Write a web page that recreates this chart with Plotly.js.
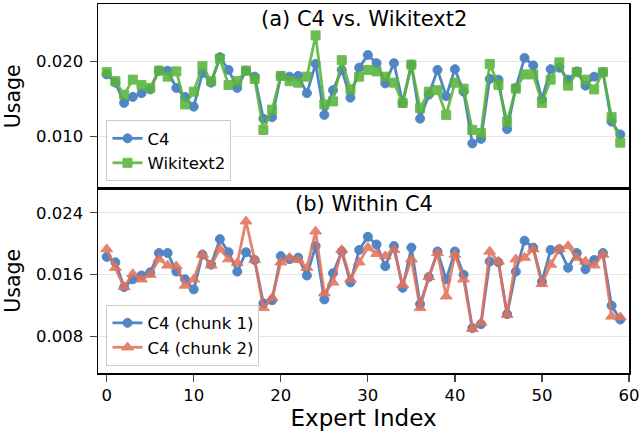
<!DOCTYPE html>
<html><head><meta charset="utf-8">
<script src="https://cdn.plot.ly/plotly-3.0.1.min.js"></script>
<style>body{margin:0;padding:0;background:#fff}#chart{width:639px;height:439px}</style>
</head><body><div id="chart"></div>
<script>
const experts = Array.from({length: 60}, (_, i) => i);
const c4Top = [0.0183,0.0172,0.0145,0.0153,0.0158,0.0163,0.0188,0.0188,0.0165,0.0153,
  0.0140,0.0185,0.0172,0.0206,0.0189,0.0165,0.0188,0.0180,0.0124,0.0126,
  0.0181,0.0180,0.0181,0.0158,0.0197,0.0129,0.0162,0.0189,0.0152,0.0192,
  0.0209,0.0198,0.0171,0.0198,0.0145,0.0196,0.0124,0.0156,0.0189,0.0154,
  0.0190,0.0160,0.0091,0.0097,0.0177,0.0176,0.0110,0.0165,0.0205,0.0195,
  0.0150,0.0190,0.0192,0.0176,0.0187,0.0168,0.0180,0.0186,0.0120,0.0103];
const wikitext2 = [0.0186,0.0174,0.0156,0.0176,0.0169,0.0165,0.0188,0.0180,0.0187,0.0143,
  0.0160,0.0194,0.0174,0.0204,0.0169,0.0174,0.0188,0.0177,0.0109,0.0136,
  0.0181,0.0174,0.0172,0.0180,0.0235,0.0143,0.0147,0.0202,0.0163,0.0180,
  0.0189,0.0187,0.0180,0.0172,0.0145,0.0196,0.0138,0.0160,0.0162,0.0129,
  0.0172,0.0164,0.0109,0.0105,0.0197,0.0169,0.0120,0.0164,0.0183,0.0183,
  0.0145,0.0176,0.0199,0.0168,0.0186,0.0176,0.0163,0.0186,0.0126,0.0092];
const chunk1 = [0.0183,0.0176,0.0144,0.0154,0.0159,0.0163,0.0188,0.0188,0.0164,0.0154,
  0.0141,0.0186,0.0173,0.0206,0.0189,0.0164,0.0189,0.0179,0.0123,0.0127,
  0.0184,0.0180,0.0182,0.0159,0.0197,0.0128,0.0162,0.0190,0.0150,0.0192,
  0.0209,0.0199,0.0171,0.0197,0.0143,0.0195,0.0122,0.0157,0.0190,0.0154,
  0.0190,0.0160,0.0091,0.0096,0.0177,0.0176,0.0109,0.0164,0.0204,0.0195,
  0.0151,0.0192,0.0193,0.0169,0.0188,0.0167,0.0179,0.0188,0.0120,0.0102];
const chunk2 = [0.0193,0.0169,0.0144,0.0161,0.0154,0.0160,0.0180,0.0172,0.0171,0.0146,
  0.0154,0.0186,0.0172,0.0193,0.0180,0.0175,0.0229,0.0179,0.0117,0.0130,
  0.0176,0.0182,0.0179,0.0169,0.0216,0.0136,0.0150,0.0192,0.0154,0.0176,
  0.0195,0.0187,0.0184,0.0192,0.0147,0.0180,0.0117,0.0157,0.0188,0.0132,
  0.0186,0.0154,0.0090,0.0098,0.0190,0.0177,0.0108,0.0180,0.0182,0.0193,
  0.0148,0.0173,0.0193,0.0197,0.0182,0.0177,0.0172,0.0186,0.0106,0.0105];
const xTicks = [0, 10, 20, 30, 40, 50, 60];

const BLUE = '#3a76bd', GREEN = '#58b43a', RED = '#e2725b';
function tr(y, name, color, symbol, xa, ya, leg) {
  return {x: experts, y: y, name: name, type: 'scatter', mode: 'lines+markers',
    xaxis: xa, yaxis: ya, legend: leg, opacity: 0.88,
    line: {color: color, width: 2.8},
    marker: {color: color, symbol: symbol, size: symbol === 'triangle-up' ? 10.5 : 9,
      line: {color: color, width: 1}}};
}
const data = [
  tr(c4Top, 'C4', BLUE, 'circle', 'x', 'y', 'legend'),
  tr(wikitext2, 'Wikitext2', GREEN, 'square', 'x', 'y', 'legend'),
  tr(chunk1, 'C4 (chunk 1)', BLUE, 'circle', 'x2', 'y2', 'legend2'),
  tr(chunk2, 'C4 (chunk 2)', RED, 'triangle-up', 'x2', 'y2', 'legend2')
];
const font = {family: 'DejaVu Sans, sans-serif', color: '#000'};
const frame = {showline: true, mirror: true, linecolor: '#000', linewidth: 1.5, zeroline: false};
const layout = {
  width: 639, height: 439, paper_bgcolor: '#fff', plot_bgcolor: '#fff',
  margin: {l: 98, r: 10, t: 4, b: 66},
  font: Object.assign({size: 16.5}, font),
  showlegend: true,
  xaxis: Object.assign({domain: [0, 1], anchor: 'y', range: [-1, 60], showgrid: false,
    showticklabels: false, ticks: ''}, frame),
  yaxis: Object.assign({domain: [0.5, 1], anchor: 'x', range: [0.00309, 0.02769],
    tickvals: [0.010, 0.020], ticktext: ['0.010', '0.020'], ticks: 'outside', ticklen: 7, tickwidth: 1.2,
    ticklabelstandoff: 3,
    showgrid: true, gridcolor: '#e6e6e6', gridwidth: 1,
    title: {text: 'Usage', font: {size: 20.5}, standoff: 10}}, frame),
  xaxis2: Object.assign({domain: [0, 1], anchor: 'y2', range: [-1, 60], showgrid: false,
    tickvals: xTicks, ticktext: xTicks.map(String), ticks: 'outside', ticklen: 7, tickwidth: 1.2,
    automargin: false, ticklabeloverflow: 'allow',
    title: {text: 'Expert Index', font: {size: 23}, standoff: 2}}, frame),
  yaxis2: Object.assign({domain: [0, 0.5], anchor: 'x2', range: [0.003293, 0.02714],
    tickvals: [0.008, 0.016, 0.024], ticktext: ['0.008', '0.016', '0.024'], ticks: 'outside', ticklen: 7, tickwidth: 1.2,
    ticklabelstandoff: 3,
    showgrid: true, gridcolor: '#e6e6e6', gridwidth: 1,
    title: {text: 'Usage', font: {size: 20.5}, standoff: 10}}, frame),
  legend: {x: 0.016, y: 0.52, xanchor: 'left', yanchor: 'bottom', bgcolor: 'rgba(255,255,255,0.85)',
    bordercolor: '#cccccc', borderwidth: 1, font: {size: 16.5}, tracegroupgap: 0, itemwidth: 30},
  legend2: {x: 0.016, y: 0.02, xanchor: 'left', yanchor: 'bottom', bgcolor: 'rgba(255,255,255,0.85)',
    bordercolor: '#cccccc', borderwidth: 1, font: {size: 16.5}, tracegroupgap: 0, itemwidth: 30},
  annotations: [
    {text: '(a) C4 vs. Wikitext2', xref: 'paper', yref: 'paper', x: 0.5, y: 0.997, xanchor: 'center',
      yanchor: 'top', showarrow: false, font: {size: 21}},
    {text: '(b) Within C4', xref: 'paper', yref: 'paper', x: 0.5, y: 0.497, xanchor: 'center',
      yanchor: 'top', showarrow: false, font: {size: 21}}
  ]
};
Plotly.newPlot('chart', data, layout, {displayModeBar: false, staticPlot: true});
</script></body></html>
